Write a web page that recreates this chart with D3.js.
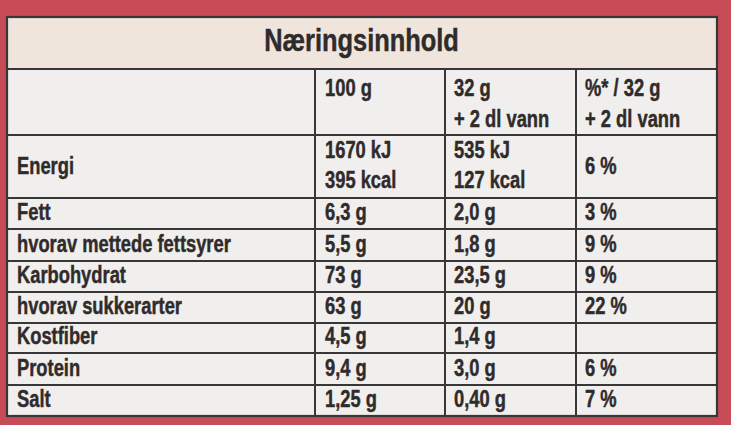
<!DOCTYPE html>
<html><head><meta charset="utf-8">
<script src="https://cdn.jsdelivr.net/npm/d3@7"></script>
<style>
html,body{margin:0;padding:0;background:#fff;}
svg{display:block;}
</style></head>
<body>
<svg id="c" width="747" height="429"></svg>
<script>
// ---- data ----
const title = "Næringsinnhold";
const headerLine1 = ["", "100 g", "32 g", "%* / 32 g"];
const headerLine2 = ["", "", "+ 2 dl vann", "+ 2 dl vann"];
const nutrients = ["Energi", "Fett", "hvorav mettede fettsyrer", "Karbohydrat", "hvorav sukkerarter", "Kostfiber", "Protein", "Salt"];
const per100g = [["1670 kJ", "395 kcal"], "6,3 g", "5,5 g", "73 g", "63 g", "4,5 g", "9,4 g", "1,25 g"];
const perServing = [["535 kJ", "127 kcal"], "2,0 g", "1,8 g", "23,5 g", "20 g", "1,4 g", "3,0 g", "0,40 g"];
const percentRI = ["6 %", "3 %", "9 %", "9 %", "22 %", "", "6 %", "7 %"];

// ---- layout ----
const svg = d3.select("#c");
const tLeft = 7, tRight = 717, tTop = 17, titleBottom = 69, tBottom = 416;
const colEdges = [tLeft, 315, 445, 576, tRight];
const colPad = [10, 10, 9, 9];
const rowHeights = [66, 63, 31, 32, 31, 31, 30, 32, 31];
const rowEdges = [titleBottom];
rowHeights.forEach(h => rowEdges.push(rowEdges[rowEdges.length - 1] + h));
const rowY = i => rowEdges[i];

const ink = "#302b2b", lineCol = "#383636";
const font = "'Liberation Sans', Arial, sans-serif";

svg.append("rect").attr("x", 0).attr("y", 0).attr("width", 731).attr("height", 425).attr("fill", "#c84c57");
svg.append("rect").attr("x", tLeft).attr("y", tTop).attr("width", tRight - tLeft).attr("height", titleBottom - tTop).attr("fill", "#efe5dc");
svg.append("rect").attr("x", tLeft).attr("y", titleBottom).attr("width", tRight - tLeft).attr("height", tBottom - titleBottom).attr("fill", "#f1efed");

function txt(x, y, s, size, condense, anchor) {
  const g = svg.append("g").attr("transform", `translate(${x},${y}) scale(${condense},1)`);
  g.append("text").attr("x", 0).attr("y", 0).attr("font-family", font).attr("font-weight", "bold")
    .attr("font-size", size).attr("fill", ink).attr("stroke", ink).attr("stroke-width", 0.45)
    .attr("text-anchor", anchor || "start").text(s);
  return g;
}

// title
txt(361.5, 51, title, 31, 0.82, "middle");

// grid lines
const hLines = rowEdges.slice(0, -1);
svg.selectAll("line.h").data(hLines).enter().append("line")
  .attr("x1", tLeft).attr("x2", tRight).attr("y1", d => d).attr("y2", d => d)
  .attr("stroke", lineCol).attr("stroke-width", 2);
svg.selectAll("line.v").data(colEdges.slice(1, -1)).enter().append("line")
  .attr("x1", d => d).attr("x2", d => d).attr("y1", titleBottom).attr("y2", tBottom)
  .attr("stroke", lineCol).attr("stroke-width", 2);
svg.append("rect").attr("x", tLeft).attr("y", tTop).attr("width", tRight - tLeft).attr("height", tBottom - tTop)
  .attr("fill", "none").attr("stroke", lineCol).attr("stroke-width", 2.2);

const fs = 23.5, cond = 0.78;
// header
headerLine1.forEach((s, i) => { if (s) txt(colEdges[i] + colPad[i], rowY(0) + 27, s, fs, cond); });
headerLine2.forEach((s, i) => { if (s) txt(colEdges[i] + colPad[i], rowY(0) + 58, s, fs, cond); });

// body
const cols = [nutrients, per100g, perServing, percentRI];
nutrients.forEach((n, r) => {
  const y0 = rowY(r + 1), y1 = rowY(r + 2);
  cols.forEach((col, c) => {
    const v = col[r];
    const x = colEdges[c] + colPad[c];
    if (Array.isArray(v)) {
      txt(x, y0 + 23, v[0], fs, cond);
      txt(x, y0 + 53, v[1], fs, cond);
    } else if (v) {
      if (y1 - y0 > 45) txt(x, (y0 + y1) / 2 + 7, v, fs, cond);
      else txt(x, y1 - 9, v, fs, cond);
    }
  });
});
</script>
</body></html>
